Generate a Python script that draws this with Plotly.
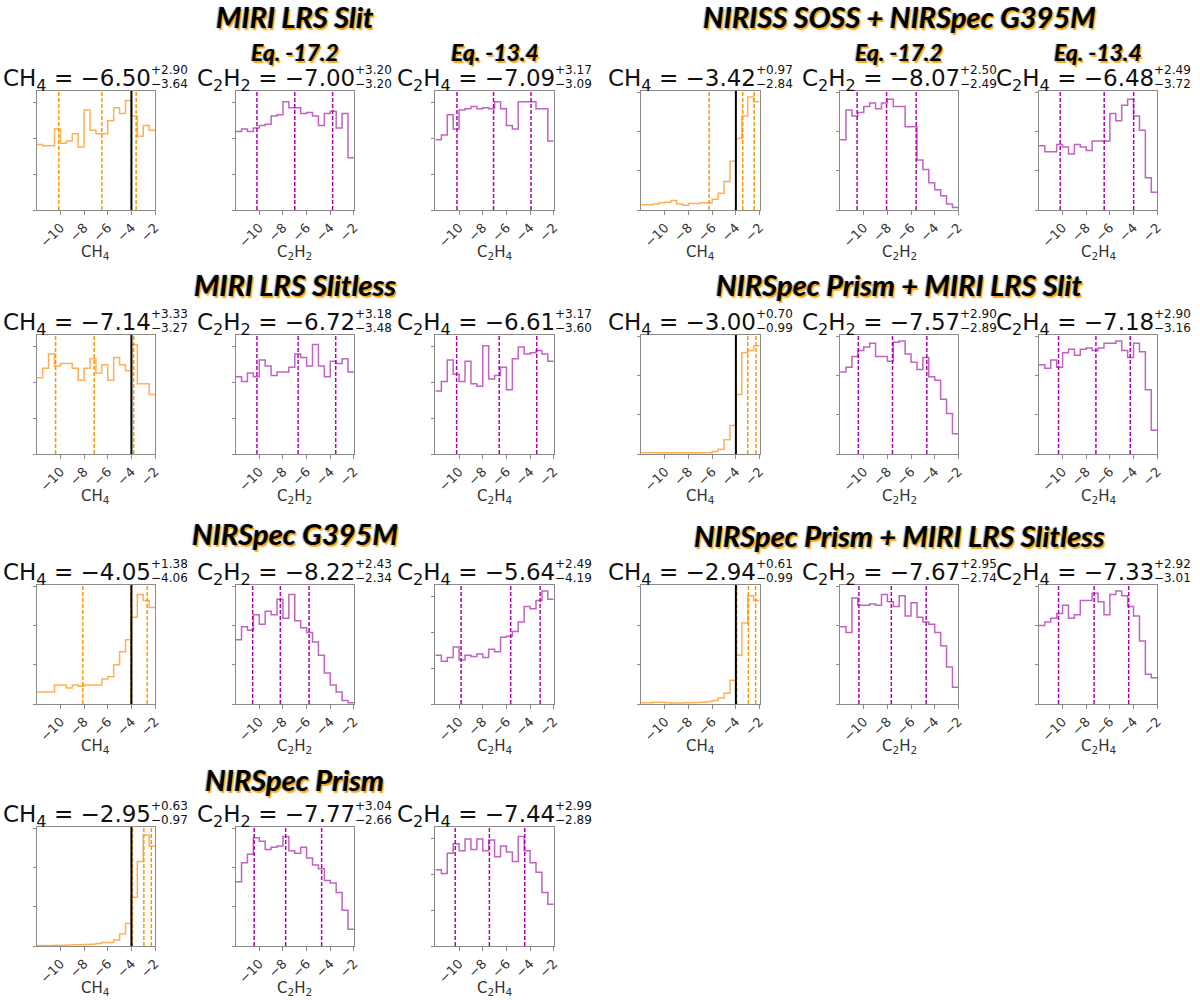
import plotly.graph_objects as go

W, H = 1200, 1000

# ---------------------------------------------------------------------------
# Data: 20 histogram bins (width 0.5) between -12 and -2, heights relative
# ---------------------------------------------------------------------------
bin_edges = [-12.0, -11.5, -11.0, -10.5, -10.0, -9.5, -9.0, -8.5, -8.0, -7.5, -7.0,
             -6.5, -6.0, -5.5, -5.0, -4.5, -4.0, -3.5, -3.0, -2.5, -2.0]

group_names = ["MIRI LRS Slit", "MIRI LRS Slitless", "NIRSpec G395M", "NIRSpec Prism",
               "NIRISS SOSS + NIRSpec G395M", "NIRSpec Prism + MIRI LRS Slit",
               "NIRSpec Prism + MIRI LRS Slitless"]
species = ["CH<sub>4</sub>", "C<sub>2</sub>H<sub>2</sub>", "C<sub>2</sub>H<sub>4</sub>"]
eq_labels = ["", "Eq. -17.2", "Eq. -13.4"]
true_ch4 = -4.0

median = [[-6.50, -7.00, -7.09], [-7.14, -6.72, -6.61], [-4.05, -8.22, -5.64], [-2.95, -7.77, -7.44],
          [-3.42, -8.07, -6.48], [-3.00, -7.57, -7.18], [-2.94, -7.67, -7.33]]
err_plus = [[2.90, 3.20, 3.17], [3.33, 3.18, 3.17], [1.38, 2.43, 2.49], [0.63, 3.04, 2.99],
            [0.97, 2.50, 2.49], [0.70, 2.90, 2.90], [0.61, 2.95, 2.92]]
err_minus = [[3.64, 3.20, 3.09], [3.27, 3.48, 3.60], [4.06, 2.34, 4.19], [0.97, 2.66, 2.89],
             [2.84, 2.49, 3.72], [0.99, 2.89, 3.16], [0.99, 2.74, 3.01]]

miri_slit_ch4 = [0.55, 0.54, 0.54, 0.68, 0.56, 0.58, 0.64, 0.53, 0.84, 0.67,
                 0.64, 0.64, 0.75, 0.86, 0.81, 0.92, 0.79, 0.62, 0.71, 0.67]
miri_slit_c2h2 = [0.66, 0.68, 0.66, 0.69, 0.71, 0.72, 0.79, 0.80, 0.91, 0.86,
                  0.86, 0.81, 0.82, 0.79, 0.71, 0.81, 0.83, 0.69, 0.81, 0.44]
miri_slit_c2h4 = [0.59, 0.63, 0.80, 0.68, 0.84, 0.85, 0.87, 0.85, 0.86, 0.85,
                  0.91, 0.85, 0.71, 0.68, 0.91, 0.91, 0.91, 0.85, 0.85, 0.58]
miri_slitless_ch4 = [0.64, 0.72, 0.84, 0.74, 0.76, 0.76, 0.72, 0.62, 0.72, 0.80,
                     0.68, 0.75, 0.62, 0.81, 0.75, 0.70, 0.92, 0.59, 0.59, 0.50]
miri_slitless_c2h2 = [0.65, 0.61, 0.68, 0.65, 0.79, 0.74, 0.66, 0.69, 0.69, 0.73,
                      0.84, 0.81, 0.74, 0.92, 0.74, 0.65, 0.78, 0.76, 0.80, 0.69]
miri_slitless_c2h4 = [0.53, 0.61, 0.79, 0.67, 0.61, 0.78, 0.59, 0.57, 0.91, 0.63,
                      0.66, 0.73, 0.54, 0.80, 0.90, 0.84, 0.85, 0.87, 0.84, 0.78]
g395m_ch4 = [0.10, 0.10, 0.10, 0.16, 0.16, 0.135, 0.16, 0.15, 0.16, 0.16,
             0.16, 0.21, 0.23, 0.33, 0.44, 0.54, 0.73, 0.92, 0.87, 0.81]
g395m_c2h2 = [0.54, 0.65, 0.62, 0.75, 0.67, 0.78, 0.75, 0.88, 0.72, 0.92,
              0.70, 0.64, 0.60, 0.52, 0.41, 0.26, 0.16, 0.10, 0.03, 0.01]
g395m_c2h4 = [0.41, 0.36, 0.39, 0.48, 0.37, 0.41, 0.40, 0.42, 0.39, 0.46,
              0.44, 0.56, 0.57, 0.61, 0.69, 0.82, 0.80, 0.87, 0.95, 0.88]
prism_ch4 = [0.005, 0.005, 0.005, 0.007, 0.007, 0.008, 0.01, 0.01, 0.012, 0.015,
             0.02, 0.03, 0.03, 0.05, 0.10, 0.19, 0.41, 0.71, 0.93, 0.84]
prism_c2h2 = [0.54, 0.70, 0.77, 0.91, 0.88, 0.81, 0.83, 0.84, 0.92, 0.80,
              0.78, 0.83, 0.74, 0.68, 0.65, 0.55, 0.53, 0.45, 0.30, 0.14]
prism_c2h4 = [0.64, 0.61, 0.78, 0.86, 0.80, 0.90, 0.81, 0.90, 0.80, 0.89,
              0.75, 0.84, 0.79, 0.71, 0.92, 0.80, 0.70, 0.62, 0.45, 0.35]
soss_g395m_ch4 = [0.045, 0.045, 0.05, 0.06, 0.065, 0.08, 0.05, 0.04, 0.055, 0.055,
                  0.06, 0.06, 0.09, 0.14, 0.24, 0.41, 0.60, 0.79, 0.95, 0.91]
soss_g395m_c2h2 = [0.59, 0.84, 0.79, 0.82, 0.87, 0.90, 0.85, 0.90, 0.93, 0.87,
                   0.87, 0.70, 0.70, 0.42, 0.34, 0.23, 0.17, 0.12, 0.05, 0.02]
soss_g395m_c2h4 = [0.54, 0.49, 0.49, 0.55, 0.53, 0.47, 0.55, 0.53, 0.50, 0.58,
                   0.58, 0.58, 0.81, 0.75, 0.88, 0.93, 0.79, 0.67, 0.27, 0.15]
prism_slit_ch4 = [0.01, 0.01, 0.01, 0.01, 0.01, 0.01, 0.01, 0.01, 0.01, 0.01,
                  0.01, 0.01, 0.02, 0.04, 0.12, 0.24, 0.50, 0.85, 0.87, 0.91]
prism_slit_c2h2 = [0.69, 0.73, 0.82, 0.87, 0.90, 0.93, 0.82, 0.82, 0.78, 0.94,
                   0.95, 0.84, 0.77, 0.71, 0.81, 0.65, 0.62, 0.46, 0.34, 0.17]
prism_slit_c2h4 = [0.75, 0.72, 0.79, 0.73, 0.85, 0.88, 0.83, 0.88, 0.89, 0.87,
                   0.89, 0.93, 0.93, 0.95, 0.87, 0.81, 0.93, 0.86, 0.54, 0.20]
prism_slitless_ch4 = [0.01, 0.01, 0.015, 0.015, 0.01, 0.008, 0.008, 0.01, 0.01, 0.012,
                      0.015, 0.02, 0.03, 0.05, 0.09, 0.20, 0.41, 0.68, 0.91, 0.87]
prism_slitless_c2h2 = [0.65, 0.60, 0.89, 0.83, 0.83, 0.84, 0.83, 0.92, 0.86, 0.82,
                       0.91, 0.74, 0.85, 0.73, 0.69, 0.67, 0.60, 0.49, 0.31, 0.14]
prism_slitless_c2h4 = [0.66, 0.69, 0.72, 0.76, 0.83, 0.72, 0.75, 0.87, 0.87, 0.93,
                       0.86, 0.75, 0.92, 0.95, 0.91, 0.82, 0.74, 0.53, 0.25, 0.22]

hists = [
    [miri_slit_ch4, miri_slit_c2h2, miri_slit_c2h4],
    [miri_slitless_ch4, miri_slitless_c2h2, miri_slitless_c2h4],
    [g395m_ch4, g395m_c2h2, g395m_c2h4],
    [prism_ch4, prism_c2h2, prism_c2h4],
    [soss_g395m_ch4, soss_g395m_c2h2, soss_g395m_c2h4],
    [prism_slit_ch4, prism_slit_c2h2, prism_slit_c2h4],
    [prism_slitless_ch4, prism_slitless_c2h2, prism_slitless_c2h4],
]

xtick_vals = [-10, -8, -6, -4, -2]
xtick_text = ["\u221210", "\u22128", "\u22126", "\u22124", "\u22122"]

# ---------------------------------------------------------------------------
# Layout geometry (pixels)
# ---------------------------------------------------------------------------
COL_LEFTS = [[37, 237, 438], [645, 845, 1045]]
PW, PH = 119, 119
ROW_TOPS = [91, 335, 585, 827]
GROUP_POS = [(0, 0), (0, 1), (0, 2), (0, 3), (1, 0), (1, 1), (1, 2)]
TITLE_Y = [16, 285, 533, 779, 16, 285, 535]

ORANGE_LINE = "rgba(255,150,30,0.75)"
ORANGE_DASH = "#ff9500"
PURPLE_LINE = "rgba(170,50,170,0.75)"
PURPLE_DASH = "#b000b0"
FRAME = "#8a8a8a"

VAL_SIZE, ERR_SIZE = 23, 12
TITLE_FONT = dict(family="Lato, Open Sans, sans-serif", size=29, color="black",
                  weight="bold", style="italic",
                  shadow="1.5px 1.5px 1px rgba(255,160,0,0.95), -1px 0px 1px rgba(40,90,220,0.6)")
VAL_FONT = dict(family="DejaVu Sans", size=VAL_SIZE, color="#111111")
ERR_FONT = dict(family="DejaVu Sans", size=ERR_SIZE, color="#111111")
AXT_FONT = dict(family="DejaVu Sans", size=15, color="#333333")

# DejaVu Sans advance widths (em) for centring the value labels
ADV = {"C": 0.698, "H": 0.752, " ": 0.318, "=": 0.838, "\u2212": 0.838, ".": 0.318, "+": 0.838}
SPECIES_EM = [0.698 + 0.752 + 0.7 * 0.636, 0.698 + 0.752 + 2 * 0.7 * 0.636]


def text_em(s):
    return sum(ADV.get(c, 0.636) for c in s)


def px(x):
    return x / W


def py(y):
    return 1 - y / H


fig = go.Figure()
layout = {}
annotations = []
shapes = []

k = 0
for g, name in enumerate(group_names):
    col, row = GROUP_POS[g]
    top = ROW_TOPS[row]
    bottom = top + PH

    # group title centred on the middle panel
    mid = COL_LEFTS[col][1] + PW / 2
    annotations.append(dict(text=name, x=px(mid), y=py(TITLE_Y[g]), xref="paper", yref="paper",
                            xanchor="center", yanchor="middle", showarrow=False, font=TITLE_FONT))

    for s in range(3):
        k += 1
        xa = "x" if k == 1 else f"x{k}"
        ya = "y" if k == 1 else f"y{k}"
        left = COL_LEFTS[col][s]
        right = left + PW
        center = left + PW / 2
        is_ch4 = s == 0
        line_c = ORANGE_LINE if is_ch4 else PURPLE_LINE
        dash_c = ORANGE_DASH if is_ch4 else PURPLE_DASH

        h = hists[g][s]
        fig.add_trace(go.Scatter(
            x=bin_edges, y=h + [h[-1]], mode="lines", line=dict(color=line_c, width=1.5, shape="hv"),
            xaxis=xa, yaxis=ya, showlegend=False, hoverinfo="skip",
        ))

        layout["xaxis" if k == 1 else f"xaxis{k}"] = dict(
            domain=[px(left), px(right)], anchor=ya, range=[-12, -2],
            showline=True, linecolor=FRAME, linewidth=1, mirror=True, showgrid=False, zeroline=False,
            ticks="outside", ticklen=4, tickcolor=FRAME, tickvals=xtick_vals, ticktext=xtick_text,
            tickangle=-45, tickfont=dict(family="DejaVu Sans", size=13, color="#333333"),
        )
        layout["yaxis" if k == 1 else f"yaxis{k}"] = dict(
            domain=[py(bottom), py(top)], anchor=xa, range=[0, 1.0],
            showline=True, linecolor=FRAME, linewidth=1, mirror=True, showgrid=False, zeroline=False,
            ticks="outside", ticklen=3, tickcolor=FRAME, dtick=0.3 if min(h) > 0.3 else 0.33,
            showticklabels=False,
        )
        annotations.append(dict(text=species[s], x=px(center), y=py(bottom + 42), xref="paper",
                                yref="paper", xanchor="center", yanchor="middle", showarrow=False,
                                font=AXT_FONT))

        # quantile lines
        m, ep, em = median[g][s], err_plus[g][s], err_minus[g][s]
        for q in [m - em, m, m + ep]:
            shapes.append(dict(type="line", xref=xa, yref=f"{ya} domain", x0=q, x1=q, y0=0, y1=1,
                               line=dict(color=dash_c, width=1.5, dash="4px,2px")))
        if is_ch4:
            shapes.append(dict(type="line", xref=xa, yref=f"{ya} domain", x0=true_ch4, x1=true_ch4,
                               y0=0, y1=1, line=dict(color="black", width=2)))

        # value label with stacked errors, centred over the panel like a matplotlib title
        tail = f" = \u2212{abs(m):.2f}"
        main_w = (SPECIES_EM[0 if is_ch4 else 1] + text_em(tail)) * VAL_SIZE
        err_w = max(text_em(f"+{ep:.2f}"), text_em(f"\u2212{em:.2f}")) * ERR_SIZE
        start = center - (main_w + err_w) / 2
        start = min(start, W - 2 - main_w - err_w)
        jx = px(start + main_w)
        annotations.append(dict(text=species[s] + tail, x=jx, y=py(top - 11),
                                xref="paper", yref="paper", xanchor="right", yanchor="middle",
                                borderpad=0, borderwidth=0, showarrow=False, font=VAL_FONT))
        annotations.append(dict(text=f"+{ep:.2f}", x=jx, y=py(top - 21), xref="paper", yref="paper",
                                xanchor="left", yanchor="middle", borderpad=0, borderwidth=0,
                                showarrow=False, font=ERR_FONT))
        annotations.append(dict(text=f"\u2212{em:.2f}", x=jx, y=py(top - 7), xref="paper", yref="paper",
                                xanchor="left", yanchor="middle", borderpad=0, borderwidth=0,
                                showarrow=False, font=ERR_FONT))

        if row == 0 and eq_labels[s]:
            annotations.append(dict(text=eq_labels[s], x=px(center), y=py(52), xref="paper",
                                    yref="paper", xanchor="center", yanchor="middle", showarrow=False,
                                    font=dict(TITLE_FONT, size=23)))

fig.update_layout(
    width=W, height=H, margin=dict(l=0, r=0, t=0, b=0),
    plot_bgcolor="white", paper_bgcolor="white",
    annotations=annotations, shapes=shapes, **layout,
)

fig.write_html("out.html", config={"displayModeBar": False},
               post_script="document.body.style.margin='0px';")
